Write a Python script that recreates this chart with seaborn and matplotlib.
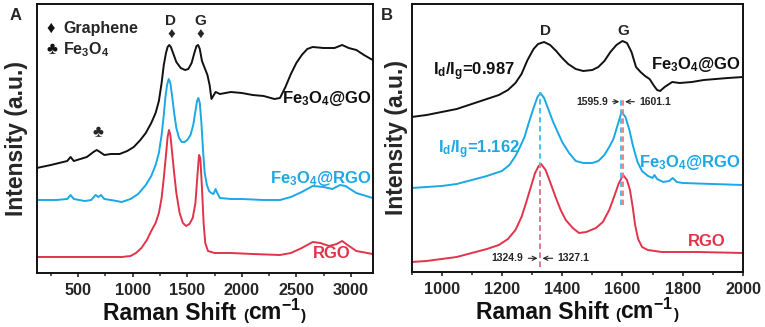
import matplotlib
matplotlib.use('Agg')
import matplotlib.pyplot as plt
from matplotlib.ticker import MultipleLocator
from matplotlib.offsetbox import TextArea, HPacker, AnchoredOffsetbox
import seaborn as sns

# ---- panel A: full range spectra (x in cm-1, intensity in a.u.) ----
a_go_x = [120, 250, 400, 430, 460, 520, 580, 640, 670, 700, 740, 800, 880, 950, 1010, 1070, 1120, 1170,
          1210, 1240, 1265, 1285, 1305, 1320, 1335, 1350, 1370, 1400, 1440, 1480, 1510, 1540, 1565, 1585,
          1600, 1615, 1635, 1660, 1685, 1705, 1722, 1738, 1760, 1800, 1900, 2000, 2100, 2200, 2300, 2350,
          2400, 2450, 2500, 2550, 2600, 2650, 2750, 2850, 2920, 2980, 3050, 3120, 3200]
a_go_y = [105, 108, 112, 116, 112, 114, 116, 121, 123, 121, 118, 119, 119, 122, 126, 133, 140, 150,
          160, 172, 190, 208, 220, 226, 228, 226, 220, 211, 205, 203, 204, 210, 220, 227,
          228, 224, 212, 205, 198, 188, 174, 177, 181, 179, 181, 180, 178, 177, 174, 175,
          186, 199, 210, 218, 224, 226, 225, 225, 228, 225, 223, 218, 213]

a_frgo_x = [120, 300, 400, 430, 460, 560, 620, 660, 685, 710, 740, 800, 900, 980, 1050, 1120, 1170, 1210,
            1240, 1265, 1285, 1300, 1315, 1330, 1345, 1360, 1380, 1400, 1425, 1450, 1475, 1500, 1530,
            1555, 1575, 1590, 1602, 1615, 1630, 1645, 1660, 1680, 1700, 1720, 1740, 1760, 1775, 1800,
            1900, 2000, 2200, 2350, 2450, 2550, 2650, 2750, 2830, 2900, 2950, 3050, 3200]
a_frgo_y = [73, 73, 74, 78, 74, 72, 73, 78, 76, 78, 74, 73, 71, 74, 79, 88, 97, 108,
            120, 138, 158, 176, 188, 194, 190, 178, 160, 145, 135, 131, 131, 133, 138,
            148, 162, 172, 175, 170, 150, 122, 100, 88, 82, 80, 79, 84, 80, 75,
            74, 74, 73, 73, 76, 81, 87, 86, 84, 88, 87, 80, 75]

a_rgo_x = [120, 300, 500, 700, 900, 980, 1030, 1080, 1130, 1170, 1210, 1240, 1265, 1285, 1305, 1320,
           1333, 1345, 1360, 1380, 1400, 1430, 1460, 1490, 1520, 1550, 1575, 1595, 1608, 1620, 1635,
           1650, 1665, 1690, 1750, 1900, 2100, 2350, 2450, 2550, 2650, 2720, 2800, 2870, 2920, 2970,
           3050, 3200]
a_rgo_y = [16, 16, 16, 16, 16, 17, 20, 25, 33, 42, 50, 60, 75, 95, 118, 136,
           143, 138, 122, 100, 80, 60, 50, 47, 49, 55, 70, 100, 118, 115, 85,
           50, 30, 22, 20, 20, 19, 18, 20, 25, 31, 30, 27, 29, 32, 28,
           22, 19]

# ---- panel B: 900-2000 cm-1 zoom ----
b_go_x = [900, 950, 1000, 1050, 1100, 1150, 1190, 1220, 1245, 1265, 1285, 1305, 1320, 1340, 1360, 1380,
          1400, 1420, 1445, 1470, 1500, 1520, 1540, 1560, 1580, 1600, 1615, 1630, 1645, 1660, 1675,
          1690, 1705, 1715, 1725, 1740, 1765, 1790, 1830, 1870, 1910, 1950, 2000]
b_go_y = [155, 157, 160, 163, 168, 173, 177, 182, 189, 198, 212, 223, 228, 230, 227, 221,
          214, 208, 203, 201, 202, 205, 211, 220, 227, 231, 229, 220, 205, 200, 196,
          193, 186, 182, 181, 185, 190, 189, 190, 192, 193, 194, 195]

b_frgo_x = [900, 950, 1000, 1050, 1100, 1150, 1200, 1225, 1245, 1260, 1275, 1290, 1305, 1318, 1328, 1340,
            1355, 1370, 1385, 1400, 1423, 1445, 1470, 1500, 1520, 1540, 1556, 1570, 1585, 1597, 1610,
            1623, 1635, 1650, 1665, 1685, 1700, 1706, 1715, 1735, 1755, 1767, 1780, 1800, 1900, 2000]
b_frgo_y = [84, 85, 86, 88, 92, 96, 101, 107, 116, 125, 135, 150, 164, 175, 179, 174,
            162, 150, 140, 130, 119, 111, 109, 109, 111, 117, 125, 133, 148, 160, 155,
            142, 126, 110, 101, 96, 94, 97, 93, 90, 91, 94, 90, 89, 88, 87]

b_rgo_x = [900, 950, 1000, 1050, 1100, 1150, 1190, 1220, 1245, 1265, 1280, 1295, 1310, 1322, 1330, 1345,
           1360, 1378, 1395, 1412, 1435, 1456, 1480, 1512, 1535, 1556, 1572, 1587, 1602, 1615, 1625,
           1634, 1642, 1652, 1665, 1684, 1730, 1850, 2000]
b_rgo_y = [10, 11, 13, 15, 19, 23, 27, 33, 42, 55, 69, 84, 99, 106, 108, 102,
           90, 75, 62, 52, 44, 39, 40, 44, 50, 62, 75, 88, 97, 92, 82,
           65, 47, 33, 25, 22, 20, 20, 19]

# peak positions marked in panel B
d_peaks = [1324.9, 1327.1]
g_peaks = [1595.9, 1601.1]

black = '#111111'
cyan = '#1ba8e4'
red = '#e1344b'

sns.set_style('ticks')
plt.rcParams['font.family'] = ['Liberation Sans', 'DejaVu Sans']
plt.rcParams['font.weight'] = 'bold'
plt.rcParams['mathtext.fontset'] = 'custom'
plt.rcParams['mathtext.rm'] = 'Liberation Sans:bold'
plt.rcParams['mathtext.it'] = 'Liberation Sans:bold'
plt.rcParams['mathtext.bf'] = 'Liberation Sans:bold'
plt.rcParams['mathtext.default'] = 'rm'

fig = plt.figure(figsize=(7.65, 3.27), dpi=100)
ax1 = fig.add_axes([36.7 / 765, 1 - 273 / 327, 336 / 765, 269.5 / 327])
ax2 = fig.add_axes([411.5 / 765, 1 - 272 / 327, 331.5 / 765, 268.5 / 327])

for x, y, c in [(a_go_x, a_go_y, black), (a_frgo_x, a_frgo_y, cyan), (a_rgo_x, a_rgo_y, red)]:
    sns.lineplot(x=x, y=y, color=c, lw=1.4, ax=ax1)
for x, y, c in [(b_go_x, b_go_y, black), (b_frgo_x, b_frgo_y, cyan), (b_rgo_x, b_rgo_y, red)]:
    sns.lineplot(x=x, y=y, color=c, lw=1.4, ax=ax2)

ax1.set_xlim(120, 3200)
ax1.set_ylim(0, 269.5)
ax2.set_xlim(900, 2000)
ax2.set_ylim(0, 268.5)
ax1.xaxis.set_major_locator(MultipleLocator(500))
ax1.xaxis.set_minor_locator(MultipleLocator(250))
ax2.xaxis.set_major_locator(MultipleLocator(200))
ax2.xaxis.set_minor_locator(MultipleLocator(100))


def raman_label(ax, y):
    big = dict(fontsize=16.5, fontweight='bold', color='#111111')
    small = dict(fontsize=11, fontweight='bold', color='#111111')
    parts = [TextArea('Raman Shift ', textprops=big),
             TextArea('(', textprops=small),
             TextArea('cm$^{-1}$', textprops=big),
             TextArea(')', textprops=small)]
    box = HPacker(children=parts, align='baseline', pad=0, sep=0)
    anch = AnchoredOffsetbox(loc='upper center', child=box, pad=0, borderpad=0, frameon=False,
                             bbox_to_anchor=(0.5, y), bbox_transform=ax.transAxes)
    ax.add_artist(anch)


for ax in (ax1, ax2):
    ax.set_yticks([])
    ax.set_xlabel('')
    ax.tick_params(axis='x', which='major', direction='out', length=3, width=1.2,
                   labelsize=11.7, pad=4)
    ax.tick_params(axis='x', which='minor', direction='out', length=1.8, width=1.1)
    for s in ax.spines.values():
        s.set_linewidth(1.4)
        s.set_color('#111111')
    for lab in ax.get_xticklabels():
        lab.set_fontweight('bold')
    ax.set_ylabel('Intensity (a.u.)', fontsize=16.5, fontweight='bold')
ax1.yaxis.set_label_coords(-0.025, 0.5)
ax2.yaxis.set_label_coords(-0.01, 0.5)
raman_label(ax1, -0.1)
raman_label(ax2, -0.1)

# ---- panel A annotations ----
ax1.text(246, 245, '\u2666', fontsize=12, ha='center', va='center', color=black)
ax1.text(365, 245, 'Graphene', fontsize=11.5, ha='left', va='center')
ax1.text(258, 223, '\u2663', fontsize=12, ha='center', va='center', color=black)
ax1.text(365, 223, r'Fe$_3$O$_4$', fontsize=11.5, ha='left', va='center')
ax1.text(1350, 252, 'D', fontsize=11, ha='center', va='center')
ax1.text(1617, 252, 'G', fontsize=11, ha='center', va='center')
ax1.text(1350, 238, '\u2666', fontsize=11, ha='center', va='center')
ax1.text(1617, 238, '\u2666', fontsize=11, ha='center', va='center')
ax1.text(683, 140, '\u2663', fontsize=12, ha='center', va='center')
ax1.text(3190, 175, r'Fe$_3$O$_4$@GO', fontsize=12, ha='right', va='center', color=black)
ax1.text(3190, 94, r'Fe$_3$O$_4$@RGO', fontsize=12, ha='right', va='center', color=cyan)
ax1.text(2826, 19, 'RGO', fontsize=12, ha='center', va='center', color=red)

# ---- panel B annotations ----
ax2.vlines(d_peaks[0], 5, 180, colors='#3cbcec', linestyles=(0, (3, 2)), lw=1.3)
ax2.vlines(d_peaks[1], 5, 108, colors='#f07585', linestyles=(0, (3, 2)), lw=1.3)
ax2.vlines(g_peaks[0], 67, 175, colors='#3cbcec', linestyles=(0, (3, 2)), lw=1.3)
ax2.vlines(g_peaks[1], 67, 175, colors='#f07585', linestyles=(0, (3, 2)), lw=1.3)

arr = dict(arrowstyle='->', lw=0.8, color='#222222', shrinkA=1, shrinkB=1)
ax2.annotate(f'{d_peaks[0]}', xy=(d_peaks[0] - 2, 13.7), xytext=(1272, 13.7), fontsize=7.5,
             ha='right', va='center', arrowprops=arr)
ax2.annotate(f'{d_peaks[1]}', xy=(d_peaks[1] + 3, 13.7), xytext=(1384, 13.7), fontsize=7.5,
             ha='left', va='center', arrowprops=arr)
ax2.annotate(f'{g_peaks[0]}', xy=(g_peaks[0] - 2, 170.3), xytext=(1552, 170.3), fontsize=7.5,
             ha='right', va='center', arrowprops=arr)
ax2.annotate(f'{g_peaks[1]}', xy=(g_peaks[1] + 3, 170.3), xytext=(1655, 170.3), fontsize=7.5,
             ha='left', va='center', arrowprops=arr)

ax2.text(1346, 241, 'D', fontsize=11, ha='center', va='center')
ax2.text(1603, 241, 'G', fontsize=11, ha='center', va='center')
ax2.text(972, 200, r'I$_d$/I$_g$=0.987', fontsize=12, ha='left', va='center', color=black)
ax2.text(989, 122, r'I$_d$/I$_g$=1.162', fontsize=12, ha='left', va='center', color=cyan)
ax2.text(1993, 208, r'Fe$_3$O$_4$@GO', fontsize=12, ha='right', va='center', color=black)
ax2.text(1993, 109, r'Fe$_3$O$_4$@RGO', fontsize=12, ha='right', va='center', color=cyan)
ax2.text(1880, 30, 'RGO', fontsize=12, ha='center', va='center', color=red)

fig.text(16 / 765, 1 - 16 / 327, 'A', fontsize=12, fontweight='bold', ha='center', va='center')
fig.text(387 / 765, 1 - 16 / 327, 'B', fontsize=12, fontweight='bold', ha='center', va='center')

fig.savefig('out.png', dpi=100)
